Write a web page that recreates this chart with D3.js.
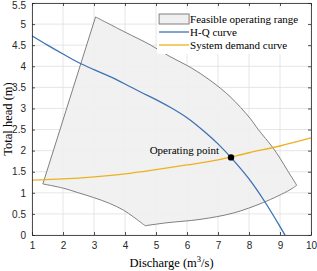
<!DOCTYPE html>
<html lang="en">
<head>
<meta charset="utf-8">
<title>Pump operating range</title>
<script src="https://d3js.org/d3.v7.min.js"></script>
<style>
  body { margin: 0; background: #fff; }
  .tick text { font-family: "Liberation Sans", Arial, sans-serif; font-size: 10px; fill: #262626; }
  .serif { font-family: "Liberation Serif", "Times New Roman", serif; font-size: 11px; fill: #000; }
  .title { font-size: 12.5px; }
</style>
</head>
<body>
<script>
// ---- data ----
var xTicks = [1, 2, 3, 4, 5, 6, 7, 8, 9, 10];
var yTicks = [0, 0.5, 1, 1.5, 2, 2.5, 3, 3.5, 4, 4.5, 5, 5.5];

// feasible operating range outline, clockwise from the top vertex
var rangeQ = [3.05, 4.0, 4.81, 5.45, 6.10, 6.74, 7.39, 8.03, 8.30, 8.76, 9.0, 9.25, 9.54,
              9.32, 8.46, 7.49, 6.42, 5.35, 4.65,
              4.27, 3.95, 3.5, 2.98, 2.5, 2.01, 1.35];
var rangeH = [5.17, 4.81, 4.51, 4.23, 3.98, 3.67, 3.28, 2.77, 2.50, 2.08, 1.82, 1.52, 1.18,
              1.07, 0.77, 0.52, 0.37, 0.29, 0.22,
              0.43, 0.59, 0.75, 0.89, 1.0, 1.11, 1.21];
// indices of the sharp corners of that outline
var rangeCorners = [0, 12, 18, 25];

// H-Q curve
var hqQ = [1, 1.5, 2, 2.5, 3, 3.5, 4, 4.5, 5, 5.5, 6, 6.5, 7, 7.5, 8, 8.5, 9, 9.16];
var hqH = [4.72, 4.50, 4.29, 4.09, 3.92, 3.76, 3.58, 3.39, 3.21, 3.01, 2.78, 2.49, 2.16, 1.77, 1.33, 0.80, 0.20, 0];

// system demand curve
var sysQ = [1, 2, 3, 4, 5, 6, 7, 8, 9, 10];
var sysH = [1.30, 1.33, 1.38, 1.45, 1.55, 1.66, 1.78, 1.95, 2.11, 2.30];

var opQ = 7.42, opH = 1.84;

// ---- layout ----
var width = 317, height = 271;
var margin = {top: 3, right: 6, bottom: 36, left: 32};
var w = width - margin.left - margin.right,
    h = height - margin.top - margin.bottom;

var x = d3.scaleLinear().domain([1, 10]).range([0, w]);
var y = d3.scaleLinear().domain([0, 5.5]).range([h, 0]);

var svg = d3.select("body").append("svg")
    .attr("width", width)
    .attr("height", height);

var g = svg.append("g")
    .attr("transform", "translate(" + margin.left + "," + margin.top + ")");

// grid
g.append("g").selectAll("line").data(xTicks).enter().append("line")
    .attr("x1", d => x(d)).attr("x2", d => x(d))
    .attr("y1", 0).attr("y2", h)
    .attr("stroke", "#e0e0e0").attr("stroke-width", 0.8);
g.append("g").selectAll("line").data(yTicks).enter().append("line")
    .attr("y1", d => y(d)).attr("y2", d => y(d))
    .attr("x1", 0).attr("x2", w)
    .attr("stroke", "#e0e0e0").attr("stroke-width", 0.8);

// feasible range: smooth edges between the corners
var rangePts = rangeQ.map((q, i) => [q, rangeH[i]]);
var edgeLine = d3.line().x(d => x(d[0])).y(d => y(d[1])).curve(d3.curveCatmullRom.alpha(0.5));
var dRange = "";
for (var k = 0; k < rangeCorners.length - 1; k++) {
    var seg = edgeLine(rangePts.slice(rangeCorners[k], rangeCorners[k + 1] + 1));
    dRange += (k === 0 ? seg : "L" + seg.slice(1));
}
dRange += "Z";
g.append("path")
    .attr("d", dRange)
    .attr("fill", "#f0f0f0")
    .attr("fill-opacity", 0.9)
    .attr("stroke", "#808080")
    .attr("stroke-width", 1);

var line = d3.line().x(d => x(d[0])).y(d => y(d[1])).curve(d3.curveMonotoneX);

// system demand curve
g.append("path")
    .datum(sysQ.map((q, i) => [q, sysH[i]]))
    .attr("d", line)
    .attr("fill", "none")
    .attr("stroke", "#EDB120")
    .attr("stroke-width", 1.3);

// H-Q curve
g.append("path")
    .datum(hqQ.map((q, i) => [q, hqH[i]]))
    .attr("d", line)
    .attr("fill", "none")
    .attr("stroke", "#3D72B4")
    .attr("stroke-width", 1.3);

// operating point
g.append("circle")
    .attr("cx", x(opQ)).attr("cy", y(opH))
    .attr("r", 3.2)
    .attr("fill", "#000");
g.append("text")
    .attr("class", "serif")
    .attr("x", x(opQ) - 12).attr("y", y(opH) - 3)
    .attr("text-anchor", "end")
    .text("Operating point");

// axes with inward ticks on all four sides
var tickLen = 3;
g.append("g").attr("transform", "translate(0," + h + ")")
    .call(d3.axisBottom(x).tickValues(xTicks).tickSizeInner(-tickLen).tickSizeOuter(0).tickPadding(7));
var yAxis = g.append("g")
    .call(d3.axisLeft(y).tickValues(yTicks).tickSizeInner(-tickLen).tickSizeOuter(0).tickPadding(6).tickFormat(d3.format("")));
// keep the top label inside the window
yAxis.selectAll(".tick text").filter(d => d === 5.5).attr("dy", "0.55em");
g.append("g")
    .call(d3.axisTop(x).tickValues(xTicks).tickSizeInner(-tickLen).tickSizeOuter(0).tickFormat(""));
g.append("g").attr("transform", "translate(" + w + ",0)")
    .call(d3.axisRight(y).tickValues(yTicks).tickSizeInner(-tickLen).tickSizeOuter(0).tickFormat(""));
g.selectAll(".domain").attr("stroke", "#262626").attr("stroke-width", 0.8);
g.selectAll(".tick line").attr("stroke", "#262626").attr("stroke-width", 0.8);

// legend
var lg = g.append("g").attr("transform", "translate(" + (x(5.1)) + ",6)");
lg.append("rect")
    .attr("x", -2).attr("y", 0)
    .attr("width", w - x(5.1) - 1).attr("height", 45)
    .attr("fill", "#fff");
lg.append("rect")
    .attr("x", 0).attr("y", 5).attr("width", 30).attr("height", 10)
    .attr("fill", "#f0f0f0").attr("stroke", "#808080").attr("stroke-width", 1);
lg.append("line").attr("x1", 0).attr("x2", 30).attr("y1", 23).attr("y2", 23)
    .attr("stroke", "#3D72B4").attr("stroke-width", 1.3);
lg.append("line").attr("x1", 0).attr("x2", 30).attr("y1", 36).attr("y2", 36)
    .attr("stroke", "#EDB120").attr("stroke-width", 1.3);
var legendLabels = ["Feasible operating range", "H-Q curve", "System demand curve"];
lg.selectAll("text.lab").data(legendLabels).enter().append("text")
    .attr("class", "serif lab")
    .attr("x", 31)
    .attr("y", (d, i) => 13.5 + i * 13)
    .text(d => d);

// axis titles
var xl = svg.append("text")
    .attr("class", "serif title")
    .attr("x", margin.left + w / 2)
    .attr("y", 267)
    .attr("text-anchor", "middle");
xl.append("tspan").text("Discharge (m");
xl.append("tspan").attr("dy", -5).attr("font-size", "8.5px").text("3");
xl.append("tspan").attr("dy", 5).text("/s)");

svg.append("text")
    .attr("class", "serif title")
    .attr("transform", "translate(12," + (margin.top + h / 2) + ") rotate(-90)")
    .attr("text-anchor", "middle")
    .text("Total head (m)");
</script>
</body>
</html>
